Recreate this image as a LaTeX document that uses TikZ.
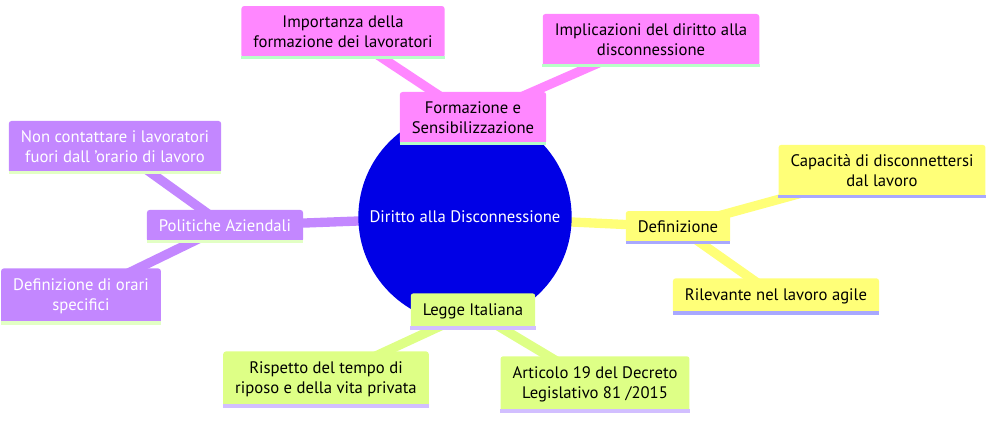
\documentclass[tikz,border=0pt]{standalone}
\usepackage{fontspec}
\setmainfont{PT Sans}
\usetikzlibrary{positioning, backgrounds}

\definecolor{rootblue}{HTML}{0000E6}
\definecolor{secy}{HTML}{FFFF78}
\definecolor{secg}{HTML}{DEFF86}
\definecolor{secp}{HTML}{C387FF}
\definecolor{secm}{HTML}{FF87FF}
\definecolor{uly}{HTML}{A8A8FF}
\definecolor{ulg}{HTML}{D2BFFF}
\definecolor{ulp}{HTML}{E2FFC4}
\definecolor{ulm}{HTML}{B8FFC8}

\begin{document}
\begin{tikzpicture}[x=0.75pt, y=-0.75pt, font=\fontsize{12.5}{15}\selectfont,
    root/.style={circle, fill=rootblue, text=white, minimum size=160pt, inner sep=0pt},
    box/.style={rounded corners=2pt, inner xsep=9pt, inner ysep=7.5pt, align=center},
    ybox/.style={box, fill=secy},
    gbox/.style={box, fill=secg},
    pbox/.style={box, fill=secp, text=white},
    mbox/.style={box, fill=secm},
    link/.style={line width=7pt}]
    \useasboundingbox (0,0) rectangle (999,424);

    \node[root] (r) at (465,217) {Diritto alla Disconnessione};

    \node[ybox] (def) at (678,227) {Definizione};
    \node[ybox] (cap) at (882,171) {Capacità di disconnettersi\\dal lavoro};
    \node[ybox] (ril) at (776,296) {Rilevante nel lavoro agile};

    \node[gbox] (leg) at (473,311) {Legge Italiana};
    \node[gbox] (ris) at (326,379) {Rispetto del tempo di\\riposo e della vita privata};
    \node[gbox] (art) at (595,384) {Articolo 19 del Decreto\\Legislativo 81 /2015};

    \node[pbox] (pol) at (225,226) {Politiche Aziendali};
    \node[pbox] (non) at (115,147) {Non contattare i lavoratori\\fuori dall 'orario di lavoro};
    \node[pbox] (ora) at (81,296) {Definizione di orari\\specifici};

    \node[mbox] (for) at (473,118) {Formazione e\\Sensibilizzazione};
    \node[mbox] (imp) at (343,32) {Importanza della\\formazione dei lavoratori};
    \node[mbox] (dis) at (651,40) {Implicazioni del diritto alla\\disconnessione};

    % underline stripes
    \foreach \n/\c in {def/uly, cap/uly, ril/uly, leg/ulg, ris/ulg, art/ulg,
                       pol/ulp, non/ulp, ora/ulp, for/ulm, imp/ulm, dis/ulm}
        \fill[\c] ([yshift=2pt]\n.south west) rectangle ([yshift=-0.5pt]\n.south east);

    \begin{scope}[on background layer]
        \draw[link, secy] (r.center) -- (def.center) (def.center) -- (cap.center) (def.center) -- (ril.center);
        \draw[link, secg] (r.center) -- (leg.center) (leg.center) -- (ris.center) (leg.center) -- (art.center);
        \draw[link, secp] (r.center) -- (pol.center) (pol.center) -- (non.center) (pol.center) -- (ora.center);
        \draw[link, secm] (r.center) -- (for.center) (for.center) -- (imp.center) (for.center) -- (dis.center);
    \end{scope}
\end{tikzpicture}
\end{document}
